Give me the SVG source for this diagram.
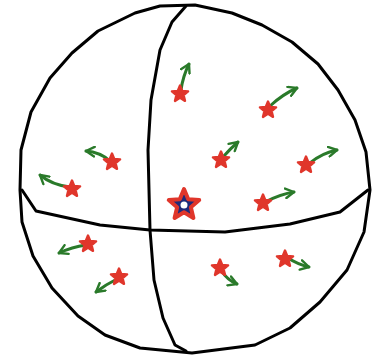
<svg xmlns="http://www.w3.org/2000/svg" width="380" height="358" viewBox="0 0 380 358">
<style>
.ln{fill:none;stroke:#000;stroke-width:3;stroke-linecap:round;stroke-linejoin:round}
.ar{fill:none;stroke:#2a7a2a;stroke-width:3;stroke-linecap:round;stroke-linejoin:round}
.st{fill:#e0362b;stroke:#e0362b;stroke-width:0.28;stroke-linejoin:round}
</style>
<defs>
<path id="star" d="M0,-1 L0.2645,-0.364 L0.951,-0.309 L0.428,0.139 L0.588,0.809 L0,0.45 L-0.588,0.809 L-0.428,0.139 L-0.951,-0.309 L-0.2645,-0.364 Z"/>
<marker id="ah" viewBox="0 0 10 10" refX="8" refY="5" markerWidth="4" markerHeight="4" orient="auto" markerUnits="strokeWidth">
<path d="M1,1 L8,5 L1,9" fill="none" stroke="#2a7a2a" stroke-width="2" stroke-linecap="round" stroke-linejoin="round"/>
</marker>
</defs>
<g id="sphere">
<path class="ln" d="M160,6 L195,5 L232,13 L262,25 L292,42 L318,64 L338,90 L355,120 L366,152 L370,190 L364,232 L347,270 L320,302 L290,328 L255,345 L192,353 L140,348 L105,335 L78,316 L52,288 L33,256 L22,222 L20,190 L21,150 L31,112 L50,78 L72,53 L98,31 L135,13 Z"/>
<path class="ln" d="M22,190 L36,211 L100,225 L150,230 L225,232 L290,224 L340,212 L368,190"/>
<path class="ln" d="M186,6 L172,22 L160,50 L151,100 L148,150 L150,230 L154,280 L163,318 L175,345 L186,351"/>
</g>
<g id="connectors">
<path class="ar" d="M181,90 Q183,76 189,64" marker-end="url(#ah)"/>
<path class="ar" d="M270,106 Q283,94 297,88" marker-end="url(#ah)"/>
<path class="ar" d="M110,161 Q100,152 86,151" marker-end="url(#ah)"/>
<path class="ar" d="M70,187 Q52,185 40,175" marker-end="url(#ah)"/>
<path class="ar" d="M223,157 Q231,148 238,142" marker-end="url(#ah)"/>
<path class="ar" d="M310,163 Q322,153 337,150" marker-end="url(#ah)"/>
<path class="ar" d="M265,202 Q281,194 294,192" marker-end="url(#ah)"/>
<path class="ar" d="M86,245 Q72,247 59,253" marker-end="url(#ah)"/>
<path class="ar" d="M117,279 Q105,285 96,292" marker-end="url(#ah)"/>
<path class="ar" d="M221,270 Q227,280 237,284" marker-end="url(#ah)"/>
<path class="ar" d="M288,258 Q297,264 309,267" marker-end="url(#ah)"/>
</g>
<g id="s1"><use href="#star" class="st" transform="translate(180,94) scale(8.5)"/></g>
<g id="s2"><use href="#star" class="st" transform="translate(268,110) scale(8.5)"/></g>
<g id="s3"><use href="#star" class="st" transform="translate(112,162) scale(8.5)"/></g>
<g id="s4"><use href="#star" class="st" transform="translate(72,189) scale(8.5)"/></g>
<g id="s5"><use href="#star" class="st" transform="translate(221,160) scale(8.5)"/></g>
<g id="s6"><use href="#star" class="st" transform="translate(306,165) scale(8.5)"/></g>
<g id="s7"><use href="#star" class="st" transform="translate(263,203) scale(8.5)"/></g>
<g id="s9"><use href="#star" class="st" transform="translate(88,244) scale(8.5)"/></g>
<g id="s10"><use href="#star" class="st" transform="translate(119,277) scale(8.5)"/></g>
<g id="s11"><use href="#star" class="st" transform="translate(220,268) scale(8.5)"/></g>
<g id="s12"><use href="#star" class="st" transform="translate(285,259) scale(8.5)"/></g>
<g id="center-star">
<use href="#star" transform="translate(184,205) scale(16)" fill="#1f2a7a" stroke="#e0362b" stroke-width="0.25" stroke-linejoin="round"/>
<circle cx="184" cy="205" r="3.5" fill="#fff"/>
</g>
</svg>
